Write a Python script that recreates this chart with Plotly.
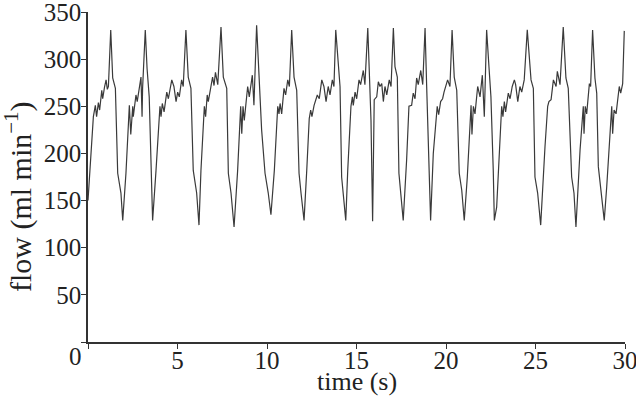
import plotly.graph_objects as go

# flow trace, cycle by cycle (trough -> plateau -> peak -> trough)
time_s = [
    0.00, 0.30, 0.41, 0.48, 0.58, 0.65, 0.77, 0.82, 0.92, 1.01, 1.08, 1.14, 1.27, 1.38, 1.53, 1.66, 1.84, 1.94,
    2.12, 2.31, 2.39, 2.50, 2.53, 2.68, 2.75, 2.85, 2.96, 3.02, 3.05, 3.20, 3.30, 3.42, 3.61,
    3.80, 4.02, 4.08, 4.15, 4.25, 4.40, 4.49, 4.68, 4.80, 4.92, 5.01, 5.10, 5.23, 5.32, 5.47, 5.60, 5.75, 5.88, 6.07, 6.20,
    6.31, 6.50, 6.57, 6.66, 6.72, 6.85, 6.96, 7.04, 7.12, 7.25, 7.43, 7.56, 7.75, 7.84, 7.99, 8.16,
    8.36, 8.53, 8.59, 8.66, 8.73, 8.92, 9.01, 9.18, 9.27, 9.42, 9.57, 9.70, 9.89, 10.07, 10.22,
    10.41, 10.60, 10.67, 10.73, 10.82, 10.95, 11.04, 11.16, 11.25, 11.38, 11.51, 11.66, 11.79, 11.90, 12.07,
    12.22, 12.36, 12.44, 12.51, 12.63, 12.81, 12.92, 13.06, 13.18, 13.30, 13.42, 13.52, 13.65, 13.74, 13.84, 13.98, 14.08, 14.17, 14.30, 14.40,
    14.51, 14.69, 14.77, 14.82, 14.92, 15.01, 15.14, 15.23, 15.38, 15.47, 15.63, 15.72, 15.81, 15.90,
    15.99, 16.13, 16.22, 16.31, 16.41, 16.50, 16.59, 16.69, 16.83, 16.93, 17.06, 17.15, 17.28, 17.37, 17.49, 17.61,
    17.80, 17.93, 18.08, 18.17, 18.27, 18.36, 18.45, 18.59, 18.70, 18.83, 18.92, 19.01, 19.14,
    19.29, 19.44, 19.51, 19.59, 19.70, 19.81, 19.89, 20.09, 20.22, 20.34, 20.46, 20.60, 20.74, 20.88, 21.02,
    21.19, 21.34, 21.40, 21.45, 21.53, 21.62, 21.77, 21.90, 22.03, 22.14, 22.27, 22.40, 22.51, 22.64, 22.70,
    22.83, 23.11, 23.18, 23.26, 23.33, 23.48, 23.58, 23.70, 23.82, 23.89, 24.01, 24.13, 24.23, 24.37, 24.54, 24.75, 24.88, 24.97, 25.12, 25.29,
    25.53, 25.68, 25.75, 25.87, 26.00, 26.15, 26.22, 26.37, 26.55, 26.70, 26.83, 27.02, 27.15, 27.26,
    27.49, 27.67, 27.71, 27.78, 27.86, 28.01, 28.08, 28.19, 28.32, 28.42, 28.51, 28.60, 28.70, 28.84,
    28.98, 29.12, 29.26, 29.31, 29.39, 29.50, 29.59, 29.68, 29.76, 29.87, 29.96,
]
flow = [
    150, 239, 251, 239, 254, 246, 267, 258, 270, 278, 268, 271, 331, 280, 269, 179, 158, 129,
    179, 251, 220, 250, 239, 262, 255, 270, 281, 239, 269, 331, 290, 260, 129,
    182, 250, 239, 253, 244, 265, 258, 278, 271, 255, 265, 260, 278, 271, 331, 281, 269, 182, 158, 124,
    182, 250, 239, 262, 255, 269, 281, 272, 286, 273, 334, 281, 269, 179, 158, 122,
    182, 250, 221, 250, 235, 271, 260, 283, 251, 336, 271, 225, 179, 158, 135,
    182, 250, 242, 253, 242, 269, 262, 278, 271, 331, 281, 267, 179, 158, 129,
    182, 237, 246, 239, 251, 262, 258, 278, 271, 255, 271, 262, 278, 271, 331, 290, 271, 175, 149, 129,
    182, 250, 260, 251, 265, 258, 278, 273, 288, 273, 333, 271, 235, 128,
    257, 260, 276, 271, 274, 255, 271, 262, 278, 271, 333, 292, 281, 179, 151, 129,
    193, 250, 251, 264, 258, 280, 273, 288, 273, 333, 271, 200, 129,
    200, 239, 250, 241, 255, 258, 265, 278, 271, 331, 281, 267, 179, 161, 129,
    175, 239, 251, 220, 250, 242, 271, 260, 283, 239, 331, 292, 260, 182, 129,
    143, 250, 239, 255, 244, 264, 258, 271, 278, 273, 255, 271, 265, 278, 331, 278, 269, 175, 158, 124,
    207, 250, 255, 257, 278, 271, 287, 273, 334, 280, 269, 175, 158, 122,
    204, 250, 221, 250, 242, 274, 271, 331, 280, 264, 186, 172, 151, 129,
    165, 214, 250, 221, 246, 242, 260, 271, 264, 274, 330,
]

fig = go.Figure()
fig.add_trace(go.Scatter(
    x=time_s,
    y=flow,
    mode='lines',
    line=dict(color='#3a3a3a', width=1.2),
    showlegend=False,
))

serif = "Liberation Serif, Times New Roman, serif"
ink = '#222222'
fig.update_layout(
    width=636, height=404,
    margin=dict(l=88, r=11, t=12, b=62),
    paper_bgcolor='white', plot_bgcolor='white',
    font=dict(family=serif, size=26, color=ink),
)
fig.update_xaxes(
    range=[0, 30], tickvals=[0, 5, 10, 15, 20, 25, 30],
    ticktext=['', '5', '10', '15', '20', '25', '30'],
    tickfont=dict(family=serif, size=25, color=ink), ticklabeloverflow='allow', automargin=False,
    ticklabelstandoff=-10,
    showgrid=False, zeroline=False, showline=True, linecolor='#333333', linewidth=1.5,
    ticks='outside', ticklen=5, tickwidth=1.2, tickcolor='#333333',
)
fig.update_yaxes(
    range=[0, 350], tickvals=[0, 50, 100, 150, 200, 250, 300, 350],
    ticktext=['', '50', '100', '150', '200', '250', '300', '350'],
    tickfont=dict(family=serif, size=25, color=ink), ticklabeloverflow='allow', automargin=False,
    ticklabelstandoff=-5,
    showgrid=False, zeroline=False, showline=True, linecolor='#333333', linewidth=1.5,
    ticks='outside', ticklen=5, tickwidth=1.2, tickcolor='#333333',
)
# axis titles placed as annotations to sit where the reference has them
fig.add_annotation(x=0.5, y=-0.12, xref='paper', yref='paper', text='time (s)', showarrow=False,
                   xanchor='center', yanchor='middle', font=dict(family=serif, size=26, color=ink))
fig.add_annotation(x=-0.128, y=0.44, xref='paper', yref='paper', text='flow (ml min<sup>−1</sup>)',
                   showarrow=False, textangle=-90, xanchor='center', yanchor='middle',
                   font=dict(family=serif, size=30, color=ink))
# the shared "0" sits at the corner, left of the axis origin
fig.add_annotation(x=0, y=0, xref='paper', yref='paper', text='0', showarrow=False,
                   xanchor='right', yanchor='top', xshift=-4, yshift=1,
                   font=dict(family=serif, size=25, color=ink))

# drop the browser's default body margin so the figure fills the window exactly
fig.write_html("out.html", config={'displayModeBar': False},
               post_script="document.body.style.margin='0';")
